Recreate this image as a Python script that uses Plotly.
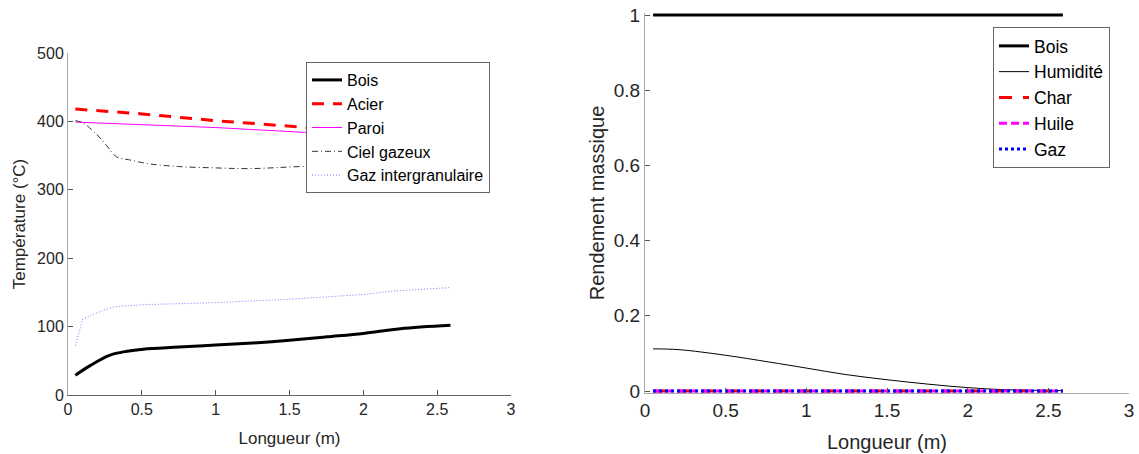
import plotly.graph_objects as go

# ---------------- Left panel: temperatures ----------------
x_bois_t = [0.05, 0.15, 0.28, 0.4, 0.51, 0.75, 1.0, 1.25, 1.5, 1.75, 2.0, 2.25, 2.59]
t_bois = [29, 43, 58, 64, 67, 70, 73, 76, 80, 85, 90, 97, 102]

x_acier = [0.05, 0.5, 1.0, 1.5, 1.6, 2.0, 2.59]
t_acier = [418, 411, 401, 393, 391, 385, 377]

x_paroi = [0.05, 1.0, 1.6, 2.59]
t_paroi = [399, 391, 384, 376]

x_ciel = [0.05, 0.1, 0.19, 0.26, 0.33, 0.41, 0.55, 0.75, 1.0, 1.23, 1.58, 2.0, 2.59]
t_ciel = [401, 398, 382, 365, 348, 344, 338, 334, 332, 331, 334, 336, 338]

x_gaz_t = [0.05, 0.1, 0.24, 0.32, 0.51, 1.0, 1.5, 2.0, 2.2, 2.59]
t_gaz = [72, 111, 124, 129, 132, 135, 140, 147, 152, 157]

# ---------------- Right panel: mass yields ----------------
x_r = [0.05, 0.21, 0.5, 0.77, 1.0, 1.24, 1.5, 1.76, 2.0, 2.23, 2.59]
y_bois = [1, 1, 1, 1, 1, 1, 1, 1, 1, 1, 1]
y_humid = [0.112, 0.110, 0.095, 0.077, 0.061, 0.044, 0.030, 0.018, 0.009, 0.0035, 0.001]
y_char = [0, 0, 0, 0, 0, 0, 0, 0, 0, 0, 0]
y_huile = [0, 0, 0, 0, 0, 0, 0, 0, 0, 0, 0]
y_gaz = [0, 0, 0, 0, 0, 0, 0, 0, 0, 0, 0]

FONT = "Liberation Sans, Arial, sans-serif"
TXT = "#262626"

fig = go.Figure()

# Left traces
fig.add_trace(go.Scatter(x=x_bois_t, y=t_bois, name="Bois", mode="lines",
                         line=dict(color="black", width=3, shape="spline"),
                         xaxis="x", yaxis="y", legend="legend"))
fig.add_trace(go.Scatter(x=x_acier, y=t_acier, name="Acier", mode="lines",
                         line=dict(color="#ff0000", width=3, dash="12px,9px"),
                         xaxis="x", yaxis="y", legend="legend"))
fig.add_trace(go.Scatter(x=x_paroi, y=t_paroi, name="Paroi", mode="lines",
                         line=dict(color="#ff00ff", width=1),
                         xaxis="x", yaxis="y", legend="legend"))
fig.add_trace(go.Scatter(x=x_ciel, y=t_ciel, name="Ciel gazeux", mode="lines",
                         line=dict(color="#333333", width=1, dash="6px,3px,1px,3px", shape="spline"),
                         xaxis="x", yaxis="y", legend="legend"))
fig.add_trace(go.Scatter(x=x_gaz_t, y=t_gaz, name="Gaz intergranulaire", mode="lines",
                         line=dict(color="#7777ff", width=1, dash="1px,2px"),
                         xaxis="x", yaxis="y", legend="legend"))

# Right traces
fig.add_trace(go.Scatter(x=x_r, y=y_bois, name="Bois", mode="lines",
                         line=dict(color="black", width=3),
                         xaxis="x2", yaxis="y2", legend="legend2"))
fig.add_trace(go.Scatter(x=x_r, y=y_humid, name="Humidité", mode="lines",
                         line=dict(color="black", width=1, shape="spline"),
                         xaxis="x2", yaxis="y2", legend="legend2"))
fig.add_trace(go.Scatter(x=x_r, y=y_char, name="Char", mode="lines",
                         line=dict(color="#ff0000", width=3, dash="13px,11px"),
                         xaxis="x2", yaxis="y2", legend="legend2"))
fig.add_trace(go.Scatter(x=x_r, y=y_huile, name="Huile", mode="lines",
                         line=dict(color="#ff00ff", width=3, dash="8px,4px"),
                         xaxis="x2", yaxis="y2", legend="legend2"))
fig.add_trace(go.Scatter(x=x_r, y=y_gaz, name="Gaz", mode="lines",
                         line=dict(color="#0000ff", width=3, dash="3px,3px"),
                         xaxis="x2", yaxis="y2", legend="legend2"))

W, H = 1139, 454


def px_x(p):
    return p / W


def px_y(p):
    return 1 - p / H


def axis(size, **kw):
    d = dict(showgrid=False, zeroline=False, showline=True, mirror=False,
             ticks="inside", ticklen=5, tickcolor="#555555", automargin=False,
             ticklabeloverflow="allow",
             tickfont=dict(family=FONT, color=TXT, size=size))
    d.update(kw)
    return d


PAD = 0.006  # small range padding so thick lines at 0 and 1 are not clipped

fig.update_layout(
    width=W, height=H,
    margin=dict(l=0, r=0, t=0, b=0, autoexpand=False),
    paper_bgcolor="white", plot_bgcolor="white",
    font=dict(family=FONT, color=TXT),
    xaxis=axis(16, domain=[px_x(68), px_x(511)], range=[0, 3], dtick=0.5, tick0=0,
               anchor="y", linecolor="#666666", linewidth=1,
               title=dict(text="Longueur (m)", font=dict(size=17, family=FONT, color=TXT), standoff=14)),
    yaxis=axis(16, domain=[px_y(395), px_y(53)], range=[0, 500], dtick=100, tick0=0,
               anchor="x", linecolor="#aaaaaa", linewidth=1,
               title=dict(text="Température (°C)", font=dict(size=17, family=FONT, color=TXT), standoff=7)),
    xaxis2=axis(19, domain=[px_x(645), px_x(1129)], range=[0, 3], dtick=0.5, tick0=0,
                anchor="y2", linecolor="#aaaaaa", linewidth=1,
                title=dict(text="Longueur (m)", font=dict(size=20, family=FONT, color=TXT), standoff=14)),
    yaxis2=axis(19, domain=[px_y(391 + 376 * PAD), px_y(15 - 376 * PAD)], range=[-PAD, 1 + PAD],
                tickvals=[0, 0.2, 0.4, 0.6, 0.8, 1], ticktext=["0", "0.2", "0.4", "0.6", "0.8", "1"],
                anchor="x2", linecolor="#aaaaaa", linewidth=1,
                title=dict(text="Rendement massique", font=dict(size=20, family=FONT, color=TXT), standoff=3)),
    legend=dict(x=px_x(306), y=px_y(62), xanchor="left", yanchor="top",
                bgcolor="white", bordercolor="#666666", borderwidth=1,
                font=dict(family=FONT, size=16, color="black"),
                tracegroupgap=0, itemwidth=30),
    legend2=dict(x=px_x(993), y=px_y(27), xanchor="left", yanchor="top",
                 bgcolor="white", bordercolor="#666666", borderwidth=1,
                 font=dict(family=FONT, size=17.5, color="black"),
                 tracegroupgap=0, itemwidth=30),
    showlegend=True,
)

# remove the browser's default 8px page margin so the figure fills the window exactly
fig.write_html("out.html", config={"displayModeBar": False},
               post_script="document.body.style.margin='0';")
